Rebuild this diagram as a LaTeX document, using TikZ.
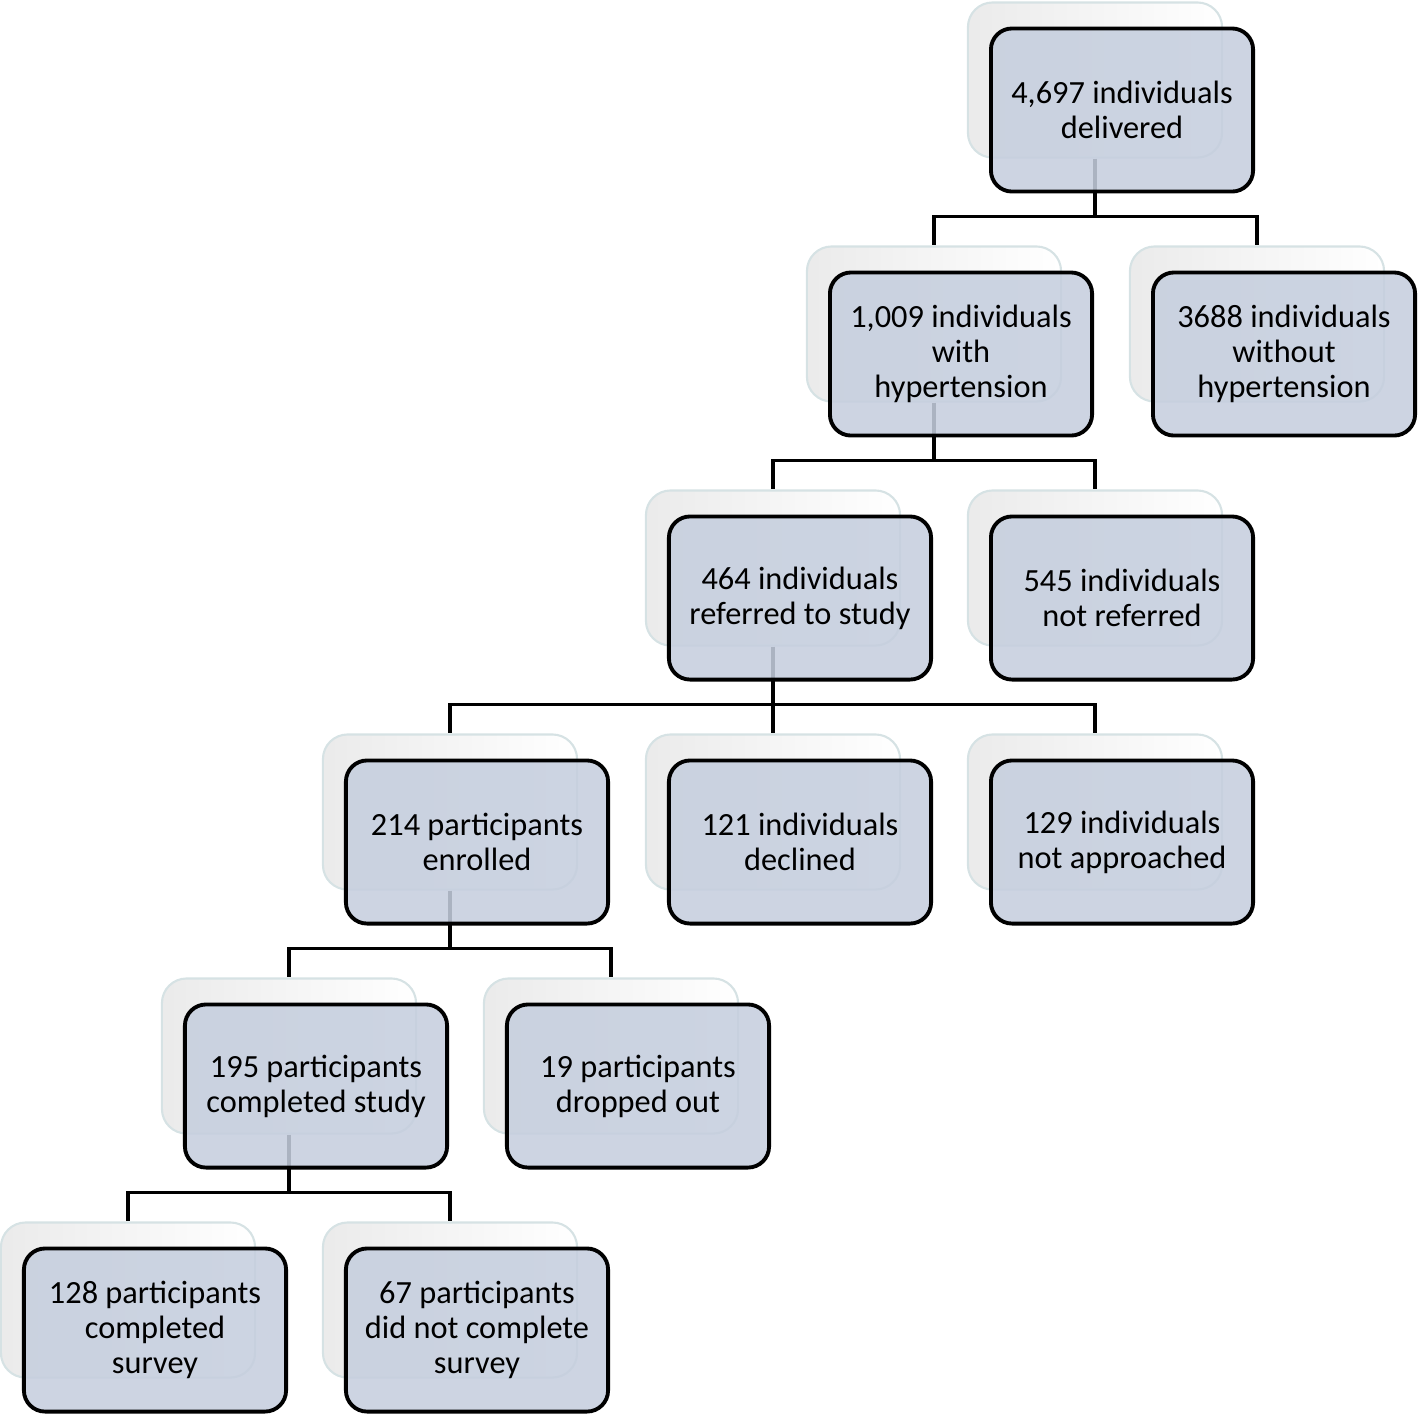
\documentclass[tikz,border=0pt]{standalone}
\usepackage{fontspec}
\setmainfont{Carlito}
\usetikzlibrary{positioning}
\definecolor{boxblue}{RGB}{197,206,222}
\definecolor{backedge}{RGB}{214,226,228}
\tikzset{
  backbox/.style={rectangle,rounded corners=7pt,draw=backedge,line width=0.6pt,
    left color=black!8,right color=white,minimum width=2.54cm,minimum height=1.55cm,inner sep=0pt},
  frontbox/.style={rectangle,rounded corners=6pt,draw=black,line width=1.1pt,fill=boxblue,
    fill opacity=0.87,text opacity=1,minimum width=2.62cm,minimum height=1.63cm,
    align=center,inner sep=2pt,font=\fontsize{9.2}{10}\selectfont},
  link/.style={draw=black,line width=1pt}
}

\begin{document}
\begin{tikzpicture}[x=0.01cm,y=-0.01cm]
        \useasboundingbox (0,0) rectangle (1418,1417);
        % back boxes
        \node[backbox] (delB)   at (1095,80)  {};
        \node[backbox] (hypB)   at (934,324)  {};
        \node[backbox] (nohB)   at (1257,324) {};
        \node[backbox] (refB)   at (773,568)  {};
        \node[backbox] (nrefB)  at (1095,568) {};
        \node[backbox] (enrB)   at (450,812)  {};
        \node[backbox] (decB)   at (773,812)  {};
        \node[backbox] (nappB)  at (1095,812) {};
        \node[backbox] (compB)  at (289,1056) {};
        \node[backbox] (dropB)  at (611,1056) {};
        \node[backbox] (survB)  at (128,1300) {};
        \node[backbox] (nsurvB) at (450,1300) {};
        % connectors
        \path[link]
          (delB.south) -- ++(0,58) -| (hypB.north)
          (delB.south) -- ++(0,58) -| (nohB.north)
          (hypB.south) -- ++(0,58) -| (refB.north)
          (hypB.south) -- ++(0,58) -| (nrefB.north)
          (refB.south) -- ++(0,58) -| (enrB.north)
          (refB.south) -- ++(0,58) -| (decB.north)
          (refB.south) -- ++(0,58) -| (nappB.north)
          (enrB.south) -- ++(0,58) -| (compB.north)
          (enrB.south) -- ++(0,58) -| (dropB.north)
          (compB.south) -- ++(0,58) -| (survB.north)
          (compB.south) -- ++(0,58) -| (nsurvB.north);
        % front boxes
        \node[frontbox] (del)   at ([shift={(27,30)}]delB.center)   {4,697 individuals\\delivered};
        \node[frontbox] (hyp)   at ([shift={(27,30)}]hypB.center)   {1,009 individuals\\with\\hypertension};
        \node[frontbox] (noh)   at ([shift={(27,30)}]nohB.center)   {3688 individuals\\without\\hypertension};
        \node[frontbox] (ref)   at ([shift={(27,30)}]refB.center)   {464 individuals\\referred to study};
        \node[frontbox] (nref)  at ([shift={(27,30)}]nrefB.center)  {545 individuals\\not referred};
        \node[frontbox] (enr)   at ([shift={(27,30)}]enrB.center)   {214 participants\\enrolled};
        \node[frontbox] (dec)   at ([shift={(27,30)}]decB.center)   {121 individuals\\declined};
        \node[frontbox] (napp)  at ([shift={(27,30)}]nappB.center)  {129 individuals\\not approached};
        \node[frontbox] (comp)  at ([shift={(27,30)}]compB.center)  {195 participants\\completed study};
        \node[frontbox] (drop)  at ([shift={(27,30)}]dropB.center)  {19 participants\\dropped out};
        \node[frontbox] (surv)  at ([shift={(27,30)}]survB.center)  {128 participants\\completed\\survey};
        \node[frontbox] (nsurv) at ([shift={(27,30)}]nsurvB.center) {67 participants\\did not complete\\survey};
      \end{tikzpicture}
\end{document}
